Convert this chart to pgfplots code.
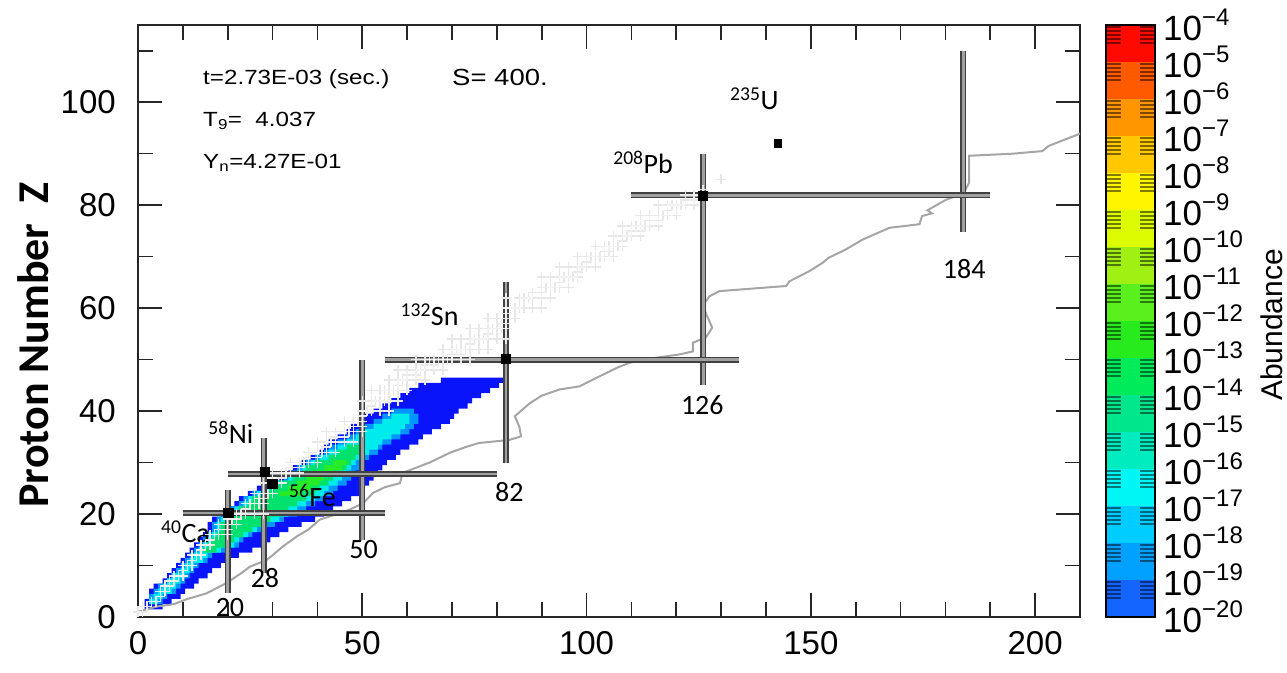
\documentclass[border=0pt]{standalone}
\usepackage{fontspec}
\setmainfont{Liberation Sans}
\newfontfamily\calib{Carlito}
\newfontfamily\widesans{Liberation Sans}[FakeStretch=1.18]
\usepackage{pgfplots}
\usepackage{pgfplotstable}
\pgfplotsset{compat=1.18}

\newcommand\ticklab{\fontsize{33}{33}\selectfont}
\newcommand\lab{\calib\fontsize{28}{28}\selectfont}
\newcommand\toptext{\widesans\fontsize{20.5}{20.5}\selectfont}
\newcommand\cblab{\fontsize{35}{35}\selectfont}
\newcommand\cbexp[1]{\raisebox{0.42em}{\fontsize{24}{24}\selectfont −#1}}

\definecolor{bandblue}{RGB}{10,20,250}
\definecolor{bandazure}{RGB}{0,150,255}
\definecolor{bandcyan}{RGB}{0,235,235}
\definecolor{bandgreen}{RGB}{0,225,110}
\definecolor{bandlime}{RGB}{40,235,40}
\definecolor{magic}{RGB}{65,65,65}
\definecolor{magicfill}{RGB}{160,160,160}
\definecolor{dripgray}{RGB}{165,165,165}
\definecolor{stablegray}{RGB}{215,215,215}
\definecolor{cb1}{RGB}{20,100,255}
\definecolor{cb2}{RGB}{0,160,255}
\definecolor{cb3}{RGB}{0,205,255}
\definecolor{cb4}{RGB}{0,245,245}
\definecolor{cb5}{RGB}{0,235,190}
\definecolor{cb6}{RGB}{0,230,140}
\definecolor{cb7}{RGB}{0,235,90}
\definecolor{cb8}{RGB}{40,235,30}
\definecolor{cb9}{RGB}{90,240,30}
\definecolor{cb10}{RGB}{160,240,20}
\definecolor{cb11}{RGB}{220,250,0}
\definecolor{cb12}{RGB}{255,245,0}
\definecolor{cb13}{RGB}{255,200,0}
\definecolor{cb14}{RGB}{255,150,0}
\definecolor{cb15}{RGB}{255,90,0}
\definecolor{cb16}{RGB}{255,10,0}

% stable nuclei (N, Z)
\pgfplotstableread{
N Z
0 1
1 1
1 2
2 2
3 3
4 3
5 4
5 5
6 5
6 6
7 6
7 7
8 7
8 8
9 8
10 8
10 9
10 10
11 10
12 10
12 11
12 12
13 12
14 12
14 13
14 14
15 14
16 14
16 15
16 16
17 16
18 16
20 16
18 17
20 17
18 18
20 18
22 18
20 19
21 19
22 19
20 20
22 20
23 20
24 20
26 20
28 20
24 21
24 22
25 22
26 22
27 22
28 22
27 23
28 23
26 24
28 24
29 24
30 24
30 25
28 26
30 26
31 26
32 26
32 27
30 28
32 28
33 28
34 28
36 28
34 29
36 29
34 30
36 30
37 30
38 30
40 30
38 31
40 31
38 32
40 32
41 32
42 32
44 32
42 33
40 34
42 34
43 34
44 34
46 34
48 34
44 35
46 35
42 36
44 36
46 36
47 36
48 36
50 36
48 37
50 37
46 38
48 38
49 38
50 38
50 39
50 40
51 40
52 40
54 40
56 40
52 41
50 42
52 42
53 42
54 42
55 42
56 42
58 42
52 44
54 44
55 44
56 44
57 44
58 44
60 44
58 45
56 46
58 46
59 46
60 46
62 46
64 46
60 47
62 47
58 48
60 48
62 48
63 48
64 48
66 48
68 48
64 49
66 49
62 50
64 50
65 50
66 50
67 50
68 50
69 50
70 50
72 50
74 50
70 51
72 51
68 52
70 52
71 52
72 52
73 52
74 52
76 52
78 52
74 53
70 54
72 54
74 54
75 54
76 54
77 54
78 54
80 54
82 54
78 55
74 56
76 56
78 56
79 56
80 56
81 56
82 56
81 57
82 57
78 58
80 58
82 58
84 58
82 59
82 60
83 60
84 60
85 60
86 60
88 60
90 60
82 62
85 62
86 62
87 62
88 62
90 62
92 62
88 63
90 63
90 64
91 64
92 64
93 64
94 64
96 64
94 65
90 66
92 66
94 66
95 66
96 66
97 66
98 66
98 67
94 68
96 68
98 68
99 68
100 68
102 68
100 69
98 70
100 70
101 70
102 70
103 70
104 70
106 70
104 71
105 71
102 72
104 72
105 72
106 72
107 72
108 72
108 73
106 74
108 74
109 74
110 74
112 74
110 75
112 75
108 76
110 76
111 76
112 76
113 76
114 76
116 76
114 77
116 77
112 78
114 78
116 78
117 78
118 78
120 78
118 79
116 80
118 80
119 80
120 80
121 80
122 80
124 80
122 81
124 81
122 82
124 82
125 82
126 82
126 83
130 85
}\stable

% dark scan lines across the colour bar
\pgfplotstableread{
y
-4.05
-4.16
-4.27
-4.38
-4.49
-5.05
-5.16
-5.27
-5.38
-5.49
-6.05
-6.16
-6.27
-6.38
-6.49
-7.05
-7.16
-7.27
-7.38
-7.49
-8.05
-8.16
-8.27
-8.38
-8.49
-9.05
-9.16
-9.27
-9.38
-9.49
-10.05
-10.16
-10.27
-10.38
-10.49
-11.05
-11.16
-11.27
-11.38
-11.49
-12.05
-12.16
-12.27
-12.38
-12.49
-13.05
-13.16
-13.27
-13.38
-13.49
-14.05
-14.16
-14.27
-14.38
-14.49
-15.05
-15.16
-15.27
-15.38
-15.49
-16.05
-16.16
-16.27
-16.38
-16.49
-17.05
-17.16
-17.27
-17.38
-17.49
-18.05
-18.16
-18.27
-18.38
-18.49
-19.05
-19.16
-19.27
-19.38
-19.49
}\stripes

\begin{document}
\begin{tikzpicture}
\useasboundingbox (0pt,0pt) rectangle (1287pt,672pt);

\begin{axis}[
  at={(138pt,55pt)}, anchor=south west,
  width=942pt, height=592pt, scale only axis,
  xmin=0, xmax=210, ymin=0, ymax=115,
  xtick={0,50,100,150,200}, ytick={0,20,40,60,80,100},
  minor xtick={10,20,30,40,60,70,80,90,110,120,130,140,160,170,180,190},
  minor ytick={10,30,50,70,90,110},
  tick align=inside, major tick length=24pt, minor tick length=15pt,
  tick style={black!85, line width=1.6pt},
  axis line style={black!85, line width=1.8pt},
  /pgf/number format/assume math mode=true,
  ticklabel style={font=\ticklab, inner sep=0pt},
  xticklabel style={yshift=-14pt},
  yticklabel style={xshift=-22pt},
]

% valley of stability
\addplot[only marks, mark=+, mark size=5pt, stablegray, mark options={line width=1.5pt}] table[x=N, y=Z] {\stable};

% abundance band: nested staircase contours
\addplot[const plot mark right, fill=bandblue, draw=none] coordinates {
(1.5,1.5) (1.5,2.5) (2.5,3.5) (2.5,4.5) (3.5,5.5) (5.5,6.5) (6.5,7.5) (7.5,8.5)
(8.5,9.5) (9.5,10.5) (10.5,11.5) (11.5,12.5) (12.5,13.5) (13.5,14.5) (14.5,15.5)
(15.5,16.5) (15.5,17.5) (16.5,18.5) (18.5,19.5) (19.5,20.5) (21.5,21.5) (22.5,22.5)
(24.5,23.5) (26.5,24.5) (28.5,25.5) (31.5,26.5) (33.5,27.5) (34.5,28.5) (36.5,29.5)
(38.5,30.5) (40.5,31.5) (41.5,32.5) (42.5,33.5) (44.5,34.5) (46.5,35.5) (47.5,36.5)
(49.5,37.5) (50.5,38.5) (52.5,39.5) (54.5,40.5) (56.5,41.5) (58.5,42.5) (60.5,43.5)
(62.5,44.5) (67.5,45.5)
(82.5,46.5) (80.5,45.5) (78.5,44.5) (76.5,43.5) (74.5,42.5) (73.5,41.5) (71.5,40.5)
(70.5,39.5) (69.5,38.5) (67.5,37.5) (65.5,36.5) (63.5,35.5) (62.5,34.5) (60.5,33.5)
(58.5,32.5) (57.5,31.5) (55.5,30.5) (54.5,29.5) (53.5,28.5) (52.5,27.5) (51.5,26.5)
(50.5,25.5) (49.5,24.5) (47.5,23.5) (45.5,22.5) (43.5,21.5) (41.5,20.5) (39.5,19.5)
(36.5,18.5) (33.5,17.5) (31.5,16.5) (29.5,15.5) (28.5,14.5) (25.5,13.5) (22.5,12.5)
(20.5,11.5) (18.5,10.5) (16.5,9.5) (15.5,8.5) (13.5,7.5) (12.5,6.5) (10.5,5.5)
(9.5,4.5) (7.5,3.5) (5.5,2.5) (1.5,1.5)};

\addplot[const plot mark right, fill=bandazure, draw=none] coordinates {
(2.5,2.5) (2.5,3.5) (3.5,4.5) (4.5,5.5) (6.5,6.5) (7.5,7.5) (8.5,8.5) (9.5,9.5)
(10.5,10.5) (11.5,11.5) (12.5,12.5) (13.5,13.5) (14.5,14.5) (15.5,15.5) (16.5,16.5)
(16.5,17.5) (17.5,18.5) (19.5,19.5) (20.5,20.5) (22.5,21.5) (23.5,22.5) (25.5,23.5)
(27.5,24.5) (29.5,25.5) (32.5,26.5) (34.5,27.5) (35.5,28.5) (37.5,29.5) (39.5,30.5)
(41.5,31.5) (42.5,32.5) (44.5,33.5) (46.5,34.5) (48.5,35.5) (50.5,36.5) (52.5,37.5)
(54.5,38.5) (56.5,39.5)
(61.5,40.5) (62.5,39.5) (62.5,38.5) (61.5,37.5) (60.5,36.5) (58.5,35.5) (56.5,34.5)
(54.5,33.5) (53.5,32.5) (51.5,31.5) (50.5,30.5) (49.5,29.5) (48.5,28.5) (47.5,27.5)
(46.5,26.5) (44.5,25.5) (43.5,24.5) (41.5,23.5) (39.5,22.5) (37.5,21.5) (35.5,20.5)
(32.5,19.5) (30.5,18.5) (27.5,17.5) (25.5,16.5) (23.5,15.5) (22.5,14.5) (19.5,13.5)
(16.5,12.5) (15.5,11.5) (13.5,10.5) (12.5,9.5) (11.5,8.5) (10.5,7.5) (9.5,6.5)
(8.5,5.5) (6.5,4.5) (5.5,3.5) (2.5,2.5)};

\addplot[const plot mark right, fill=bandcyan, draw=none] coordinates {
(2.5,2.5) (3.5,3.5) (4.5,4.5) (5.5,5.5) (6.5,6.5) (7.5,7.5) (9.5,8.5) (10.5,9.5)
(11.5,10.5) (12.5,11.5) (13.5,12.5) (14.5,13.5) (15.5,14.5) (16.5,15.5) (17.5,16.5)
(17.5,17.5) (18.5,18.5) (20.5,19.5) (21.5,20.5) (23.5,21.5) (24.5,22.5) (26.5,23.5)
(28.5,24.5) (30.5,25.5) (33.5,26.5) (35.5,27.5) (36.5,28.5) (38.5,29.5) (40.5,30.5)
(42.5,31.5) (44.5,32.5) (46.5,33.5) (48.5,34.5) (50.5,35.5) (52.5,36.5) (54.5,37.5)
(56.5,38.5)
(60.5,39.5) (60.5,38.5) (59.5,37.5) (58.5,36.5) (56.5,35.5) (54.5,34.5) (53.5,33.5)
(51.5,32.5) (50.5,31.5) (48.5,30.5) (47.5,29.5) (46.5,28.5) (45.5,27.5) (44.5,26.5)
(42.5,25.5) (41.5,24.5) (39.5,23.5) (37.5,22.5) (35.5,21.5) (33.5,20.5) (31.5,19.5)
(28.5,18.5) (26.5,17.5) (24.5,16.5) (22.5,15.5) (21.5,14.5) (18.5,13.5) (15.5,12.5)
(14.5,11.5) (12.5,10.5) (11.5,9.5) (10.5,8.5) (9.5,7.5) (8.5,6.5) (7.5,5.5)
(5.5,4.5) (4.5,3.5) (2.5,2.5)};

\addplot[const plot mark right, fill=bandgreen, draw=none] coordinates {
(14.5,12.5) (15.5,13.5) (16.5,14.5) (17.5,15.5) (18.5,16.5) (18.5,17.5) (19.5,18.5)
(21.5,19.5) (22.5,20.5) (24.5,21.5) (25.5,22.5) (27.5,23.5) (29.5,24.5) (31.5,25.5)
(34.5,26.5) (36.5,27.5) (37.5,28.5) (39.5,29.5) (42.5,30.5) (44.5,31.5) (46.5,32.5)
(50.5,33.5) (49.5,32.5) (48.5,31.5) (47.5,30.5) (46.5,29.5) (44.5,28.5) (43.5,27.5)
(42.5,26.5) (40.5,25.5) (39.5,24.5) (37.5,23.5) (35.5,22.5) (33.5,21.5) (31.5,20.5)
(29.5,19.5) (27.5,18.5) (25.5,17.5) (23.5,16.5) (21.5,15.5) (19.5,14.5) (17.5,13.5)
(14.5,12.5)};

\addplot[const plot mark right, fill=bandlime, draw=none] coordinates {
(31.5,23.5) (33.5,24.5) (35.5,25.5) (37.5,26.5) (39.5,27.5) (41.5,28.5) (43.5,29.5)
(46.5,30.5) (45.5,29.5) (43.5,28.5) (41.5,27.5) (40.5,26.5) (38.5,25.5) (36.5,24.5)
(31.5,23.5)};

% stable nuclei seen through the band
\addplot[only marks, mark=+, mark size=5pt, white, opacity=0.4, mark options={line width=1.5pt}] table[x=N, y=Z] {\stable};

% neutron drip line
\addplot[dripgray, line width=2pt] coordinates {
(0,1) (4,2) (8,2.5) (11,3.5) (15.3,4.6) (19.7,6.6) (23,8.5) (25,9.8) (28.7,11.1)
(30,12) (32.3,13.7) (35.3,15.6) (38,17) (40.5,18.9) (45,20.2) (47,20.8) (50.2,22.1)
(52.4,24.1) (55,25.2) (58.4,26) (59,28) (62,29) (65,30) (69.5,31.9) (73,33)
(76,33.8) (82.8,34.4) (85.4,35.1) (85,37) (84,39) (87.3,41.5) (90,43) (94,44.2)
(98.4,44.8) (100,45.5) (104.4,47.4) (107,48.5) (109.6,49.4) (115,50.3) (120.7,51)
(123.7,51.6) (123.7,53.3) (126.6,54.3) (128,56.2) (127.4,57.4) (126.6,59)
(125.8,60.4) (127.4,62.3) (129.6,63.3) (137,63.8) (144.5,64.3) (145.2,65.2)
(149.7,67.2) (152.6,68.8) (154,69.8) (157.8,71.4) (161.5,73.3) (167.5,75.6)
(174.2,76.3) (174.8,77.9) (177,78.4) (176,79) (180,81) (183,82) (184.5,83)
(185.3,84.4) (185.3,89.6) (195,90) (201.6,90.5) (203,91.5) (206.8,92.8) (210,93.9)};

% magic numbers
\pgfplotsset{magicline/.style={draw=magic, double=magicfill, double distance=2.6pt, line width=1.8pt}}
\addplot[magicline] coordinates {(20,4.7) (20,24.7)};
\addplot[magicline] coordinates {(28,8.5) (28,34.8)};
\addplot[magicline] coordinates {(50,15) (50,50)};
\addplot[magicline] coordinates {(82,30) (82,65)};
\addplot[magicline] coordinates {(126,45) (126,90)};
\addplot[magicline] coordinates {(184,74.7) (184,110)};
\addplot[magicline] coordinates {(10,20.2) (55,20.2)};
\addplot[magicline] coordinates {(20,27.8) (80,27.8)};
\addplot[magicline] coordinates {(55,50) (134,50)};
\addplot[magicline] coordinates {(110,81.9) (190,81.9)};

% reference nuclei
\addplot[only marks, mark=square*, mark size=4.6pt, black] coordinates {
(20.1,20.2) (28.3,28.3) (29.9,25.9) (82,50.1) (125.8,81.8)};
\addplot[only marks, mark=square*, mark size=3.8pt, black] coordinates {(142.6,92)};

\node[font=\lab] at (axis cs:10.6,16.6) {\textsuperscript{40}Ca};
\node[font=\lab] at (axis cs:20.7,35.8) {\textsuperscript{58}Ni};
\node[font=\lab] at (axis cs:38.9,23.6) {\textsuperscript{56}Fe};
\node[font=\lab] at (axis cs:65,58.7) {\textsuperscript{132}Sn};
\node[font=\lab] at (axis cs:112.6,88.3) {\textsuperscript{208}Pb};
\node[font=\lab] at (axis cs:137.4,100.6) {\textsuperscript{235}U};

\node[font=\lab] at (axis cs:20.5,1.8) {20};
\node[font=\lab] at (axis cs:28.3,7.6) {28};
\node[font=\lab] at (axis cs:50.3,13.2) {50};
\node[font=\lab] at (axis cs:82.8,24.3) {82};
\node[font=\lab] at (axis cs:125.8,41.2) {126};
\node[font=\lab] at (axis cs:184.2,67.5) {184};

\node[font=\toptext, anchor=west, inner sep=0pt] at (axis cs:14.5,104.5) {t=2.73E-03 (sec.)};
\node[font=\toptext, anchor=west, inner sep=0pt] at (axis cs:14.5,96.3) {T\textsubscript{9}=\ \ 4.037};
\node[font=\toptext, anchor=west, inner sep=0pt] at (axis cs:14.5,88.3) {Y\textsubscript{n}=4.27E-01};
\node[font=\widesans\fontsize{23.3}{23.3}\selectfont, anchor=west, inner sep=0pt] at (axis cs:70,104.9) {S= 400.};
\end{axis}

% colour bar
\begin{axis}[
  at={(1106pt,55pt)}, anchor=south west,
  width=49pt, height=592pt, scale only axis,
  xmin=0, xmax=1, ymin=-20, ymax=-4,
  xtick=\empty, ytick={-20,-19,...,-4},
  yticklabel pos=right,
  yticklabels={10\cbexp{20},10\cbexp{19},10\cbexp{18},10\cbexp{17},10\cbexp{16},10\cbexp{15},10\cbexp{14},10\cbexp{13},10\cbexp{12},10\cbexp{11},10\cbexp{10},10\cbexp{9},10\cbexp{8},10\cbexp{7},10\cbexp{6},10\cbexp{5},10\cbexp{4}},
  ytick style={draw=none},
  yticklabel style={font=\cblab, anchor=west, inner sep=0pt, xshift=8pt},
  axis line style={black, line width=2pt},
  axis on top,
]
\addplot[fill=cb1, draw=none] coordinates {(0,-20) (1,-20) (1,-19) (0,-19)};
\addplot[fill=cb2, draw=none] coordinates {(0,-19) (1,-19) (1,-18) (0,-18)};
\addplot[fill=cb3, draw=none] coordinates {(0,-18) (1,-18) (1,-17) (0,-17)};
\addplot[fill=cb4, draw=none] coordinates {(0,-17) (1,-17) (1,-16) (0,-16)};
\addplot[fill=cb5, draw=none] coordinates {(0,-16) (1,-16) (1,-15) (0,-15)};
\addplot[fill=cb6, draw=none] coordinates {(0,-15) (1,-15) (1,-14) (0,-14)};
\addplot[fill=cb7, draw=none] coordinates {(0,-14) (1,-14) (1,-13) (0,-13)};
\addplot[fill=cb8, draw=none] coordinates {(0,-13) (1,-13) (1,-12) (0,-12)};
\addplot[fill=cb9, draw=none] coordinates {(0,-12) (1,-12) (1,-11) (0,-11)};
\addplot[fill=cb10, draw=none] coordinates {(0,-11) (1,-11) (1,-10) (0,-10)};
\addplot[fill=cb11, draw=none] coordinates {(0,-10) (1,-10) (1,-9) (0,-9)};
\addplot[fill=cb12, draw=none] coordinates {(0,-9) (1,-9) (1,-8) (0,-8)};
\addplot[fill=cb13, draw=none] coordinates {(0,-8) (1,-8) (1,-7) (0,-7)};
\addplot[fill=cb14, draw=none] coordinates {(0,-7) (1,-7) (1,-6) (0,-6)};
\addplot[fill=cb15, draw=none] coordinates {(0,-6) (1,-6) (1,-5) (0,-5)};
\addplot[fill=cb16, draw=none] coordinates {(0,-5) (1,-5) (1,-4) (0,-4)};
% scan lines across the full width
\addplot[xcomb, draw=black, opacity=0.5, line width=1.8pt] table[x expr=1, y=y] {\stripes};
% bright centre column on top of the scan lines
\addplot[fill=cb1, draw=none] coordinates {(0.31,-20) (0.69,-20) (0.69,-19) (0.31,-19)};
\addplot[fill=cb2, draw=none] coordinates {(0.31,-19) (0.69,-19) (0.69,-18) (0.31,-18)};
\addplot[fill=cb3, draw=none] coordinates {(0.31,-18) (0.69,-18) (0.69,-17) (0.31,-17)};
\addplot[fill=cb4, draw=none] coordinates {(0.31,-17) (0.69,-17) (0.69,-16) (0.31,-16)};
\addplot[fill=cb5, draw=none] coordinates {(0.31,-16) (0.69,-16) (0.69,-15) (0.31,-15)};
\addplot[fill=cb6, draw=none] coordinates {(0.31,-15) (0.69,-15) (0.69,-14) (0.31,-14)};
\addplot[fill=cb7, draw=none] coordinates {(0.31,-14) (0.69,-14) (0.69,-13) (0.31,-13)};
\addplot[fill=cb8, draw=none] coordinates {(0.31,-13) (0.69,-13) (0.69,-12) (0.31,-12)};
\addplot[fill=cb9, draw=none] coordinates {(0.31,-12) (0.69,-12) (0.69,-11) (0.31,-11)};
\addplot[fill=cb10, draw=none] coordinates {(0.31,-11) (0.69,-11) (0.69,-10) (0.31,-10)};
\addplot[fill=cb11, draw=none] coordinates {(0.31,-10) (0.69,-10) (0.69,-9) (0.31,-9)};
\addplot[fill=cb12, draw=none] coordinates {(0.31,-9) (0.69,-9) (0.69,-8) (0.31,-8)};
\addplot[fill=cb13, draw=none] coordinates {(0.31,-8) (0.69,-8) (0.69,-7) (0.31,-7)};
\addplot[fill=cb14, draw=none] coordinates {(0.31,-7) (0.69,-7) (0.69,-6) (0.31,-6)};
\addplot[fill=cb15, draw=none] coordinates {(0.31,-6) (0.69,-6) (0.69,-5) (0.31,-5)};
\addplot[fill=cb16, draw=none] coordinates {(0.31,-5) (0.69,-5) (0.69,-4) (0.31,-4)};
\end{axis}

\node[rotate=90, inner sep=0pt, font=\fontsize{30}{30}\selectfont] at (1272pt,347pt) {Abundance};
\node[rotate=90, inner sep=0pt, font=\calib\bfseries\fontsize{44}{44}\selectfont] at (33pt,327pt) {Proton Number\ \ Z};
\end{tikzpicture}
\end{document}
